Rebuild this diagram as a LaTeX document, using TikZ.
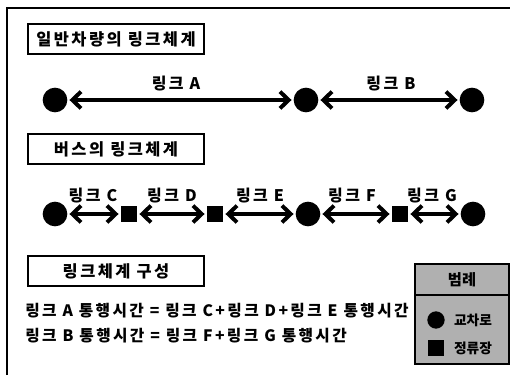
\documentclass[tikz,border=0pt]{standalone}
\usepackage{fontspec}
\setmainfont{Noto Sans CJK KR}
\usetikzlibrary{arrows.meta}
\tikzset{
  px/.style={x=0.75pt,y=-0.75pt},
  dot/.style={circle,fill=black,inner sep=0pt,outer sep=0pt,minimum size=18.5pt},
  stop/.style={rectangle,fill=black,inner sep=0pt,outer sep=0pt,minimum size=12.5pt},
  barb/.tip={Straight Barb[length=6.5pt,width=12.5pt,line width=3pt]},
  link/.style={line width=2.4pt,barb-barb,shorten <=1.6pt,shorten >=1.6pt},
  titlebox/.style={draw,line width=1.5pt,minimum width=132.5pt,minimum height=22.5pt,inner sep=0pt,font=\fontsize{12.3}{14}\selectfont\bfseries\addfontfeature{LetterSpace=15}},
  lbl/.style={font=\fontsize{12}{13}\selectfont\bfseries\addfontfeature{LetterSpace=15},inner sep=0pt},
  eq/.style={font=\fontsize{11.8}{13}\selectfont\bfseries\addfontfeature{LetterSpace=15},inner sep=0pt,anchor=west},
  legtxt/.style={font=\fontsize{10.3}{11}\selectfont\bfseries,inner sep=0pt}
}
\begin{document}
\begin{tikzpicture}[px]
\useasboundingbox (0,0) rectangle (510,375);
% outer frame
\draw[line width=1.1pt] (7,375) -- (7,8) -- (510,8);
% section titles
\node[titlebox] (t1) at (116,39) {일반차량의 링크체계};
\node[titlebox] (t2) at (116,149) {버스의 링크체계};
\node[titlebox] (t3) at (116,271) {링크체계 구성};
% row 1
\node[dot] (a1) at (55,100) {};
\node[dot] (a2) at (306,100) {};
\node[dot] (a3) at (472,100) {};
\draw[link] (a1) -- (a2);
\draw[link] (a2) -- (a3);
\node[lbl] (la) at (176,84) {링크 A};
\node[lbl] (lb) at (391,84) {링크 B};
% row 2
\node[dot] (b1) at (55,214) {};
\node[stop] (b2) at (129,214) {};
\node[stop] (b3) at (215,214) {};
\node[dot] (b4) at (308,214) {};
\node[stop] (b5) at (400,214) {};
\node[dot] (b6) at (473,214) {};
\draw[link] (b1) -- (b2);
\draw[link] (b2) -- (b3);
\draw[link] (b3) -- (b4);
\draw[link] (b4) -- (b5);
\draw[link] (b5) -- (b6);
\node[lbl] (lc) at (93,196) {링크 C};
\node[lbl] (ld) at (172,196) {링크 D};
\node[lbl] (le) at (260,196) {링크 E};
\node[lbl] (lf) at (352,196) {링크 F};
\node[lbl] (lg) at (432,196) {링크 G};
% equations
\node[eq] (e1) at (25,311) {링크 A 통행시간 = 링크 C+링크 D+링크 E 통행시간};
\node[eq] (e2) at (25,336) {링크 B 통행시간 = 링크 F+링크 G 통행시간};
% legend
\draw[line width=1.3pt,fill=gray!62] (415,264) rectangle (509,364);
\draw[line width=1.1pt] (415,295) -- (509,295);
\node[font=\fontsize{11.5}{12}\selectfont\bfseries,inner sep=0pt] (lgt) at (462,280) {범례};
\node[circle,fill=black,inner sep=0pt,minimum size=13pt] (lgc) at (436,320) {};
\node[rectangle,fill=black,inner sep=0pt,minimum size=12.5pt] (lgs) at (436,348) {};
\node[legtxt] (lgct) at (473,320) {교차로};
\node[legtxt] (lgst) at (473,348) {정류장};
\end{tikzpicture}
\end{document}
